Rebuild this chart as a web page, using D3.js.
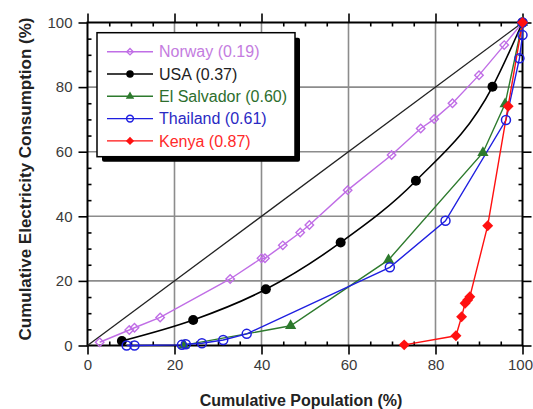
<!DOCTYPE html>
<html>
<head>
<meta charset="utf-8">
<script src="https://cdn.jsdelivr.net/npm/d3@7"></script>
<style>
  body { margin: 0; background: #fff; }
  svg { display: block; font-family: "Liberation Sans", Arial, sans-serif; }
</style>
</head>
<body>
<div id="chart"></div>
<script>
var svgWidth = 533;
var svgHeight = 409;

// plot box in pixels
var margin = { top: 22.5, right: 10.5, bottom: 63.5, left: 87.5 };
var width = svgWidth - margin.left - margin.right;
var height = svgHeight - margin.top - margin.bottom;

// Data (cumulative population %, cumulative electricity %)
var norwayX = [2.8, 9.6, 10.8, 16.7, 32.8, 40.0, 40.8, 44.9, 48.9, 51.0, 59.8, 69.9, 76.6, 79.7, 83.9, 90.0, 95.8, 100];
var norwayY = [1.0, 4.8, 5.5, 8.7, 20.6, 27.0, 27.0, 31.0, 35.0, 37.3, 48.1, 59.0, 67.2, 70.1, 75.0, 83.7, 93.0, 100];

var usaX = [7.9, 24.3, 41.0, 58.2, 75.5, 93.1, 100];
var usaY = [1.4, 7.9, 17.4, 31.9, 51.0, 80.1, 100];

var salvadorX = [22.2, 46.7, 69.2, 90.9, 96.0, 100];
var salvadorY = [0.1, 6.1, 26.5, 59.7, 74.8, 100];

var thailandX = [9.0, 10.8, 21.7, 22.6, 26.3, 31.2, 36.6, 69.5, 82.3, 96.2, 99.3, 100, 100];
var thailandY = [0.0, 0.0, 0.2, 0.4, 0.7, 1.7, 3.6, 24.2, 38.6, 69.8, 88.9, 96.1, 100];

var kenyaX = [72.8, 84.7, 86.0, 86.8, 87.4, 87.9, 92.0, 96.7, 100];
var kenyaY = [0.2, 3.0, 8.9, 13.1, 14.1, 15.1, 37.1, 74.1, 100];

var legendLabels = ["Norway (0.19)", "USA (0.37)", "El Salvador (0.60)", "Thailand (0.61)", "Kenya (0.87)"];
var majorTicks = [0, 20, 40, 60, 80, 100];
var gridTicks = [20, 40, 60, 80];
var minorTicks = d3.range(0, 101, 5).filter(d => d % 20 !== 0);

function zip(xs, ys) { return xs.map((x, i) => ({ x: x, y: ys[i] })); }

var series = [
  { name: legendLabels[0], values: zip(norwayX, norwayY), color: "#c06ee6", text: "#c47ce0", marker: "diamondOpen", curve: d3.curveLinear },
  { name: legendLabels[1], values: zip(usaX, usaY), color: "#000000", text: "#222222", marker: "circleFilled", curve: d3.curveMonotoneX },
  { name: legendLabels[2], values: zip(salvadorX, salvadorY), color: "#2d7a2d", text: "#2d6e2d", marker: "triangle", curve: d3.curveLinear },
  { name: legendLabels[3], values: zip(thailandX, thailandY), color: "#1f1fe0", text: "#2a2ac4", marker: "circleOpen", curve: d3.curveLinear },
  { name: legendLabels[4], values: zip(kenyaX, kenyaY), color: "#ff1010", text: "#ff2a2a", marker: "diamondFilled", curve: d3.curveLinear }
];

var svg = d3.select("#chart")
  .append("svg")
  .attr("width", svgWidth)
  .attr("height", svgHeight);

var chartGroup = svg.append("g")
  .attr("transform", `translate(${margin.left}, ${margin.top})`);

var xScale = d3.scaleLinear().domain([0, 100]).range([0, width]);
var yScale = d3.scaleLinear().domain([0, 100]).range([height, 0]);

// Gridlines
chartGroup.append("g")
  .selectAll("line.vg")
  .data(gridTicks)
  .enter()
  .append("line")
  .attr("x1", d => xScale(d)).attr("x2", d => xScale(d))
  .attr("y1", 0).attr("y2", height)
  .attr("stroke", "#8c8c8c")
  .attr("stroke-width", 1.6);

chartGroup.append("g")
  .selectAll("line.hg")
  .data(gridTicks)
  .enter()
  .append("line")
  .attr("y1", d => yScale(d)).attr("y2", d => yScale(d))
  .attr("x1", 0).attr("x2", width)
  .attr("stroke", "#8c8c8c")
  .attr("stroke-width", 1.6);

// Axes: major ticks outward, minor ticks inward
function styleAxis(g) {
  g.select(".domain").remove();
  g.selectAll("line").attr("stroke", "#000").attr("stroke-width", 1.6);
  g.selectAll("text")
    .attr("fill", "#3a3a3a")
    .style("font-size", "15px");
}

var xAxisG = chartGroup.append("g")
  .attr("transform", `translate(0, ${height})`)
  .call(d3.axisBottom(xScale).tickValues(majorTicks).tickSize(9).tickPadding(5))
  .call(styleAxis);
// keep the last label inside the page edge
xAxisG.selectAll("text")
  .filter(d => d === 100)
  .attr("text-anchor", "end")
  .attr("x", 10);

chartGroup.append("g")
  .attr("transform", `translate(0, ${height})`)
  .call(d3.axisBottom(xScale).tickValues(minorTicks).tickSize(-4).tickFormat(""))
  .call(styleAxis);

chartGroup.append("g")
  .call(d3.axisTop(xScale).tickValues(majorTicks).tickSize(9).tickFormat(""))
  .call(styleAxis);
chartGroup.append("g")
  .call(d3.axisTop(xScale).tickValues(minorTicks).tickSize(-4).tickFormat(""))
  .call(styleAxis);

chartGroup.append("g")
  .call(d3.axisLeft(yScale).tickValues(majorTicks).tickSize(9).tickPadding(6))
  .call(styleAxis);
chartGroup.append("g")
  .call(d3.axisLeft(yScale).tickValues(minorTicks).tickSize(-4).tickFormat(""))
  .call(styleAxis);

chartGroup.append("g")
  .attr("transform", `translate(${width}, 0)`)
  .call(d3.axisRight(yScale).tickValues(majorTicks).tickSize(9).tickFormat(""))
  .call(styleAxis);
chartGroup.append("g")
  .attr("transform", `translate(${width}, 0)`)
  .call(d3.axisRight(yScale).tickValues(minorTicks).tickSize(-4).tickFormat(""))
  .call(styleAxis);

// Frame
chartGroup.append("rect")
  .attr("width", width)
  .attr("height", height)
  .attr("fill", "none")
  .attr("stroke", "#000")
  .attr("stroke-width", 2);

// Line of equality
chartGroup.append("line")
  .attr("x1", xScale(0)).attr("y1", yScale(0))
  .attr("x2", xScale(100)).attr("y2", yScale(100))
  .attr("stroke", "#222")
  .attr("stroke-width", 1.3);

// Markers
var diamond = d3.symbol().type(d3.symbolSquare);
function drawMarker(sel, type, color, scale) {
  scale = scale || 1;
  if (type === "circleFilled") {
    sel.append("circle").attr("r", 5 * scale).attr("fill", color);
  } else if (type === "circleOpen") {
    sel.append("circle").attr("r", 4.5 * scale).attr("fill", "none")
      .attr("stroke", color).attr("stroke-width", 1.5);
  } else if (type === "triangle") {
    sel.append("path").attr("d", d3.symbol().type(d3.symbolTriangle).size(55 * scale * scale)())
      .attr("fill", color);
  } else if (type === "diamondOpen") {
    sel.append("path").attr("d", diamond.size(36 * scale * scale)())
      .attr("transform", "rotate(45)")
      .attr("fill", "none").attr("stroke", color).attr("stroke-width", 1.4);
  } else if (type === "diamondFilled") {
    sel.append("path").attr("d", diamond.size(60 * scale * scale)())
      .attr("transform", "rotate(45)")
      .attr("fill", color);
  }
}

var line = d3.line().x(d => xScale(d.x)).y(d => yScale(d.y));

series.forEach(function(s) {
  chartGroup.append("path")
    .datum(s.values)
    .attr("d", line.curve(s.curve))
    .attr("fill", "none")
    .attr("stroke", s.color)
    .attr("stroke-width", s.marker === "circleFilled" ? 1.6 : 1.4);
});

series.forEach(function(s) {
  chartGroup.selectAll(null)
    .data(s.values)
    .enter()
    .append("g")
    .attr("transform", d => `translate(${xScale(d.x)}, ${yScale(d.y)})`)
    .each(function() { drawMarker(d3.select(this), s.marker, s.color); });
});

// Axis titles
svg.append("text")
  .attr("x", margin.left + width / 2 - 4)
  .attr("y", 406)
  .attr("text-anchor", "middle")
  .attr("font-weight", "bold")
  .attr("font-size", "16px")
  .attr("fill", "#222")
  .text("Cumulative Population (%)");

svg.append("text")
  .attr("transform", "translate(31, 179) rotate(-90)")
  .attr("text-anchor", "middle")
  .attr("font-weight", "bold")
  .attr("font-size", "17px")
  .attr("fill", "#222")
  .text("Cumulative Electricity Consumption (%)");

// Legend
var legend = svg.append("g").attr("transform", "translate(97, 32.7)");
legend.append("rect")
  .attr("x", 5).attr("y", 5)
  .attr("width", 198).attr("height", 124)
  .attr("rx", 2)
  .attr("fill", "#000");
legend.append("rect")
  .attr("width", 198).attr("height", 124)
  .attr("fill", "#fff")
  .attr("stroke", "#000")
  .attr("stroke-width", 1.5);

var rows = legend.selectAll("g.row")
  .data(series)
  .enter()
  .append("g")
  .attr("transform", (d, i) => `translate(0, ${19 + i * 22.3})`);

rows.append("line")
  .attr("x1", 10).attr("x2", 56)
  .attr("stroke", d => d.color)
  .attr("stroke-width", 1.4);

rows.each(function(d) {
  var m = d3.select(this).append("g").attr("transform", "translate(33, 0)");
  drawMarker(m, d.marker, d.color, 0.75);
});

rows.append("text")
  .attr("x", 62)
  .attr("dy", "0.36em")
  .attr("font-size", "16px")
  .attr("fill", d => d.text)
  .text(d => d.name);
</script>
</body>
</html>
